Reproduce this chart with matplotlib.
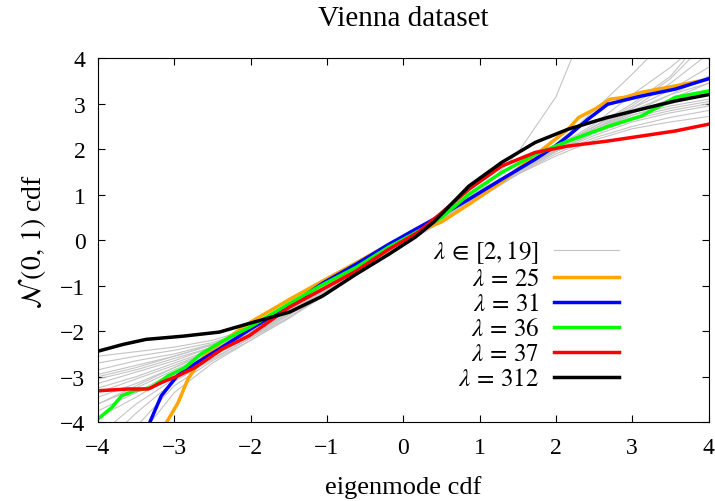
import numpy as np
import matplotlib
matplotlib.use('Agg')
import matplotlib.pyplot as plt

plt.rcParams['font.family'] = ['Liberation Serif', 'DejaVu Serif']
plt.rcParams['mathtext.fontset'] = 'stix'

# --- gray curves, lambda in [2,19] (on a common grid) ---
gray_x = [-4, -3.5, -3, -2.5, -2, -1.5, -1, -0.5, 0, 0.5, 1, 1.5, 2, 2.5, 3, 3.5, 4]
gray_y = [
    [-2.55, -2.45, -2.35, -2.2, -1.95, -1.5, -1.02, -0.5, 0.0, 0.5, 1.0, 1.45, 1.85, 2.2, 2.45, 2.6, 2.72],
    [-2.7, -2.55, -2.42, -2.25, -1.98, -1.52, -1.0, -0.48, 0.02, 0.5, 0.98, 1.45, 1.9, 2.25, 2.5, 2.7, 2.85],
    [-2.85, -2.65, -2.5, -2.28, -2.0, -1.55, -1.05, -0.5, 0.0, 0.48, 0.98, 1.5, 1.95, 2.3, 2.6, 2.8, 2.95],
    [-2.95, -2.75, -2.55, -2.3, -1.95, -1.45, -0.95, -0.45, 0.05, 0.52, 1.02, 1.5, 1.95, 2.35, 2.65, 2.85, 3.0],
    [-3.05, -2.85, -2.6, -2.35, -2.0, -1.5, -1.0, -0.5, 0.0, 0.5, 1.0, 1.52, 1.98, 2.35, 2.7, 2.9, 3.05],
    [-3.15, -2.9, -2.65, -2.35, -2.02, -1.55, -1.05, -0.52, 0.0, 0.48, 1.0, 1.5, 2.0, 2.4, 2.75, 2.95, 3.1],
    [-3.25, -3.0, -2.7, -2.4, -2.05, -1.6, -1.08, -0.55, -0.05, 0.45, 0.95, 1.45, 1.95, 2.4, 2.75, 3.0, 3.2],
    [-3.35, -3.05, -2.75, -2.42, -2.05, -1.55, -1.0, -0.45, 0.1, 0.6, 1.1, 1.55, 2.0, 2.45, 2.8, 3.05, 3.3],
    [-3.45, -3.15, -2.8, -2.45, -2.08, -1.6, -1.05, -0.5, 0.05, 0.55, 1.05, 1.5, 1.95, 2.4, 2.8, 3.1, 3.45],
    [-3.6, -3.25, -2.85, -2.48, -2.1, -1.62, -1.1, -0.55, 0.0, 0.5, 1.0, 1.5, 2.0, 2.45, 2.85, 3.2, 3.6],
    [-3.75, -3.35, -2.9, -2.5, -2.1, -1.6, -1.05, -0.5, 0.0, 0.5, 1.0, 1.5, 2.0, 2.5, 2.9, 3.3, 3.8],
    [-3.9, -3.45, -2.95, -2.55, -2.12, -1.65, -1.1, -0.55, -0.02, 0.48, 1.0, 1.52, 2.02, 2.45, 2.9, 3.45, 4.1],
    [-4.3, -3.6, -3.05, -2.6, -2.15, -1.65, -1.12, -0.58, -0.05, 0.45, 0.98, 1.5, 2.05, 2.5, 2.95, 3.55, 4.4],
    [-4.6, -3.8, -3.1, -2.62, -2.15, -1.7, -1.15, -0.6, -0.08, 0.42, 0.95, 1.48, 2.0, 2.5, 3.0, 3.6, 4.6],
    [-4.9, -4.1, -3.2, -2.65, -2.2, -1.72, -1.18, -0.62, -0.1, 0.4, 0.95, 1.5, 2.05, 2.55, 3.2, 3.8, 4.5],
    [-5.2, -4.4, -3.35, -2.7, -2.2, -1.7, -1.15, -0.6, -0.08, 0.4, 0.92, 1.45, 2.0, 2.45, 2.8, 3.2, 3.45],
    [-3.6, -3.2, -2.8, -2.4, -2.0, -1.55, -1.05, -0.5, 0.0, 0.5, 1.05, 1.92, 3.15, 5.2, 6.5, 7.5, 8.5],
    [-3.0, -2.8, -2.55, -2.3, -1.95, -1.48, -0.98, -0.45, 0.05, 0.55, 1.05, 1.55, 2.1, 2.85, 3.65, 4.5, 5.0],
]

# --- highlighted eigenmodes ---
x25 = [-3.10, -2.95, -2.82, -2.69, -2.55, -2.3, -2.0, -1.49, -1.06, -0.62, -0.19, 0.2, 0.5, 0.86, 1.3,
       1.94, 2.16, 2.3, 2.51, 2.71, 2.9, 3.12, 3.56, 4.0]
y25 = [-4.0, -3.57, -3.05, -2.72, -2.45, -2.15, -1.8, -1.3, -0.9, -0.5, -0.1, 0.2, 0.4, 0.79, 1.3,
       2.15, 2.44, 2.7, 2.88, 3.1, 3.14, 3.25, 3.39, 3.54]

x31 = [-3.32, -3.17, -2.96, -2.73, -2.4, -2.0, -1.5, -1.06, -0.62, -0.19, 0.16, 0.5, 0.86, 1.29, 1.73,
       1.99, 2.16, 2.42, 2.68, 3.12, 3.56, 4.0]
y31 = [-4.0, -3.42, -2.98, -2.72, -2.38, -1.95, -1.45, -0.95, -0.53, -0.09, 0.24, 0.55, 0.90, 1.34, 1.78,
       2.07, 2.29, 2.66, 2.99, 3.17, 3.32, 3.55]

x36 = [-4.0, -3.82, -3.69, -3.52, -3.3, -3.08, -2.86, -2.65, -2.37, -2.0, -1.5, -1.06, -0.62, -0.19, 0.2,
       0.5, 0.86, 1.29, 1.73, 2.16, 2.68, 3.12, 3.34, 3.56, 4.0]
y36 = [-3.93, -3.68, -3.42, -3.31, -3.24, -2.98, -2.8, -2.5, -2.22, -1.9, -1.4, -0.98, -0.6, -0.15, 0.2,
       0.5, 1.01, 1.49, 1.89, 2.18, 2.5, 2.73, 2.93, 3.14, 3.28]

x37 = [-4.0, -3.6, -3.34, -3.17, -2.95, -2.73, -2.37, -2.02, -1.49, -1.06, -0.62, -0.19, 0.2, 0.5, 0.86,
       1.29, 1.73, 2.16, 2.68, 3.12, 3.56, 4.0]
y37 = [-3.31, -3.27, -3.27, -3.13, -2.98, -2.8, -2.39, -2.1, -1.47, -1.08, -0.68, -0.2, 0.18, 0.6, 1.12,
       1.63, 1.93, 2.07, 2.18, 2.29, 2.40, 2.55]

x312 = [-4.0, -3.67, -3.37, -2.89, -2.41, -2.06, -1.49, -1.06, -0.62, -0.19, 0.16, 0.4, 0.86, 1.29, 1.73,
        2.16, 2.68, 3.12, 3.56, 4.0]
y312 = [-2.44, -2.29, -2.18, -2.11, -2.02, -1.85, -1.58, -1.23, -0.75, -0.31, 0.07, 0.4, 1.19, 1.71, 2.15,
        2.44, 2.70, 2.88, 3.06, 3.2]

highlight = [
    (x25, y25, '#ffa500', r'$\lambda\,=\,25$'),
    (x31, y31, '#0000ff', r'$\lambda\,=\,31$'),
    (x36, y36, '#00ff00', r'$\lambda\,=\,36$'),
    (x37, y37, '#ff0000', r'$\lambda\,=\,37$'),
    (x312, y312, '#000000', r'$\lambda\,=\,312$'),
]
ticks = [-4, -3, -2, -1, 0, 1, 2, 3, 4]

fig = plt.figure(figsize=(7.15, 5.02), dpi=100)
ax = fig.add_axes([0.137, 0.157, 0.854, 0.725])

for i, gy in enumerate(gray_y):
    ax.plot(gray_x, gy, color='#c4c4c4', linewidth=0.8,
            label=r'$\lambda\,\in\,[2, 19]$' if i == 0 else None)

for xs, ys, col, lab in highlight:
    ax.plot(xs, ys, color=col, linewidth=2.5, label=lab)

ax.set_xlim(-4, 4)
ax.set_ylim(-4, 4)
ax.set_xticks(ticks)
ax.set_yticks(ticks)
ax.tick_params(direction='in', top=True, right=True, length=5, labelsize=17)
ax.tick_params(axis='x', pad=11)
ax.tick_params(axis='y', pad=9)

ax.set_title('Vienna dataset', fontsize=21, pad=24)
ax.set_xlabel('eigenmode cdf', fontsize=19, labelpad=12)
ax.set_ylabel(r'$\mathcal{N}\,(0,\,1)$ cdf', fontsize=20, labelpad=9)

ax.legend(loc='lower right', bbox_to_anchor=(0.87, 0.06), frameon=False, markerfirst=False,
          fontsize=18, handlelength=2.6, labelspacing=0.1, handletextpad=0.6, borderaxespad=0)

fig.savefig('out.png', dpi=100)
